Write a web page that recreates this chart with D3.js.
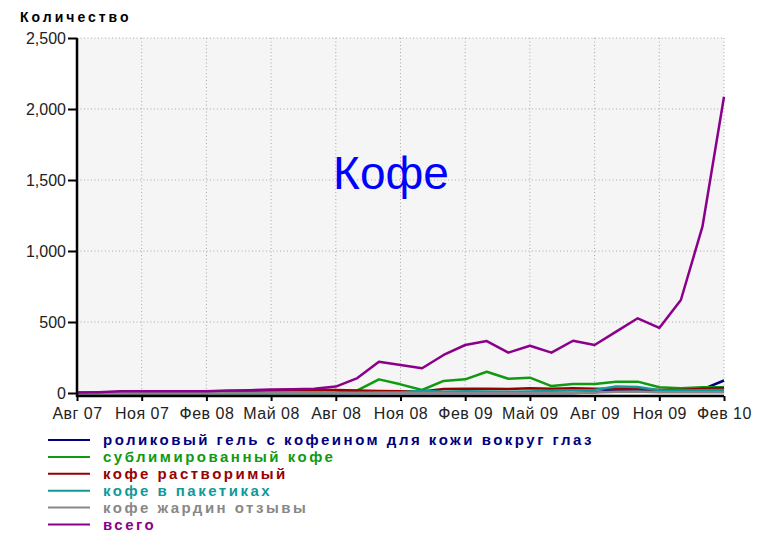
<!DOCTYPE html>
<html><head><meta charset="utf-8">
<script src="https://cdn.jsdelivr.net/npm/d3@7"></script>
<style>body{margin:0;background:#fff;} svg{display:block;font-family:"Liberation Sans",Arial,sans-serif;}</style>
</head><body><svg id="c" width="765" height="535"></svg>
<script>
const months = ["2007-08","2007-09","2007-10","2007-11","2007-12","2008-01","2008-02","2008-03","2008-04","2008-05","2008-06","2008-07","2008-08","2008-09","2008-10","2008-11","2008-12","2009-01","2009-02","2009-03","2009-04","2009-05","2009-06","2009-07","2009-08","2009-09","2009-10","2009-11","2009-12","2010-01","2010-02"];
const tickLabels = ["Авг 07","Ноя 07","Фев 08","Май 08","Авг 08","Ноя 08","Фев 09","Май 09","Авг 09","Ноя 09","Фев 10"];
const yTicks = [0,500,1000,1500,2000,2500];
const seriesNames = ["роликовый гель с кофеином для кожи вокруг глаз","сублимированный кофе","кофе растворимый","кофе в пакетиках","кофе жардин отзывы","всего"];
const seriesColors = ["#000080","#119911","#990000","#119999","#888888","#8b008b"];
const gel      = [0,0,0,0,0,0,0,0,0,0,0,0,0,0,0,0,0,0,0,0,0,0,0,0,5,20,22,18,12,25,88];
const sublim   = [0,0,0,0,0,0,0,0,0,0,0,0,2,18,96,61,21,85,96,150,100,108,49,63,63,80,80,40,33,40,40];
const instant  = [0,0,0,0,0,0,0,12,14,20,22,22,22,18,14,12,10,28,30,30,28,33,30,33,30,28,30,22,21,30,35];
const packets  = [0,0,0,0,0,0,0,0,0,0,0,0,0,0,3,5,15,8,12,10,8,10,15,20,22,45,42,20,18,20,22];
const jardin   = [0,0,0,0,0,0,0,0,0,0,0,0,0,0,0,0,0,0,0,0,0,0,0,0,3,8,10,6,5,5,5];
const total    = [3,6,12,12,12,12,13,18,20,25,27,30,45,105,220,197,174,268,338,366,284,333,284,368,338,432,526,458,655,1171,2086];
const seriesValues = [gel, sublim, instant, packets, jardin, total];

const svg = d3.select("#c");
const X0 = 77, X1 = 724, Y0 = 38, Y1 = 393;
const x = d3.scaleLinear().domain([0, months.length-1]).range([X0, X1]);
const y = d3.scaleLinear().domain([0, 2500]).range([Y1, Y0]);

svg.append("rect").attr("x",X0).attr("y",Y0).attr("width",X1-X0).attr("height",Y1-Y0+2).attr("fill","#f5f5f5");

const tickIdx = tickLabels.map((d,i)=>i*3);
svg.append("g").selectAll("line").data(tickIdx.slice(1)).join("line")
  .attr("x1",d=>x(d)).attr("x2",d=>x(d)).attr("y1",Y0).attr("y2",Y1)
  .attr("stroke","#a8a8a8").attr("stroke-width",1).attr("stroke-dasharray","1,2.5");
svg.append("g").selectAll("line").data(yTicks.slice(1)).join("line")
  .attr("x1",X0).attr("x2",X1).attr("y1",d=>y(d)).attr("y2",d=>y(d))
  .attr("stroke","#a8a8a8").attr("stroke-width",1).attr("stroke-dasharray","1,2.5");

svg.append("text").attr("x",20).attr("y",22).attr("font-size",14).attr("font-weight","bold")
  .attr("letter-spacing",3).attr("fill","#000").text("Количество");

svg.append("text").attr("x",391).attr("y",189).attr("text-anchor","middle")
  .attr("font-size",46).attr("fill","#0000ff").text("Кофе");

const line = d3.line().x((d,i)=>x(i)).y(d=>y(d));
seriesValues.forEach((vals,k)=>{
  svg.append("path").datum(vals).attr("d",line).attr("fill","none")
    .attr("stroke",seriesColors[k]).attr("stroke-width",2.5).attr("stroke-linejoin","round");
});

const yAxis = svg.append("g").attr("transform",`translate(${X0},0)`)
  .call(d3.axisLeft(y).tickValues(yTicks).tickFormat(d3.format(",")).tickSize(9).tickPadding(2));
const xAxis = svg.append("g").attr("transform",`translate(0,${Y1+3})`)
  .call(d3.axisBottom(x).tickValues(tickIdx).tickFormat((d,i)=>tickLabels[i]).tickSize(5).tickPadding(7));
[yAxis,xAxis].forEach(g=>{
  g.select(".domain").attr("stroke","#000").attr("stroke-width",2.5);
  g.selectAll(".tick line").attr("stroke","#000").attr("stroke-width",2);
  g.selectAll("text").attr("font-size",16).attr("fill","#222").attr("font-family","Liberation Sans, Arial, sans-serif");
});
xAxis.selectAll("text").attr("letter-spacing",0.5);
yAxis.select(".domain").attr("d",`M0,${Y0}V${Y1+4}`);
xAxis.select(".domain").attr("d",`M${X0},0H${X1}`);

const leg = svg.append("g");
seriesNames.forEach((name,k)=>{
  const cy = 440 + k*16.9;
  leg.append("line").attr("x1",48).attr("x2",90).attr("y1",cy).attr("y2",cy)
    .attr("stroke",seriesColors[k]).attr("stroke-width",2);
  leg.append("text").attr("x",103).attr("y",cy+5).attr("font-size",15).attr("font-weight","bold")
    .attr("letter-spacing",2.5).attr("fill",seriesColors[k]).text(name);
});
</script></body></html>
